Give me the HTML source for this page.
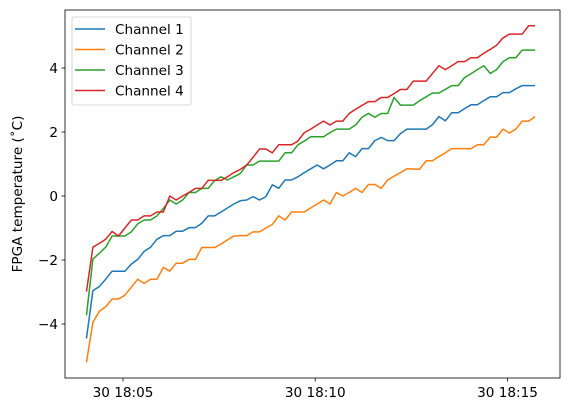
<!DOCTYPE html>
<html><head><meta charset="utf-8"><style>
body{margin:0;background:#fff;}
svg{display:block;font-family:"DejaVu Sans","Liberation Sans",sans-serif;}
</style></head><body>
<svg id="chart" width="569" height="413"></svg>
<script>
const startTime = "18:04:03";
const stepSeconds = 10;
const seriesNames = ["Channel 1","Channel 2","Channel 3","Channel 4"];
const seriesColors = ["#1f77b4","#ff7f0e","#2ca02c","#d62728"];
const ch1 = [-4.45,-2.96,-2.83,-2.6,-2.35,-2.35,-2.35,-2.13,-1.98,-1.73,-1.6,-1.35,-1.24,-1.24,-1.1,-1.1,-0.99,-0.99,-0.85,-0.62,-0.62,-0.5,-0.375,-0.25,-0.15,-0.125,-0.02,-0.125,-0.02,0.35,0.24,0.5,0.5,0.6,0.73,0.85,0.97,0.85,0.97,1.1,1.1,1.35,1.23,1.48,1.48,1.73,1.83,1.73,1.73,1.95,2.09,2.09,2.09,2.09,2.23,2.48,2.35,2.6,2.6,2.73,2.85,2.85,2.98,3.1,3.1,3.23,3.23,3.35,3.45,3.45,3.45];
const ch2 = [-5.2,-3.95,-3.6,-3.46,-3.22,-3.22,-3.1,-2.85,-2.6,-2.73,-2.6,-2.6,-2.23,-2.35,-2.1,-2.1,-1.98,-1.98,-1.61,-1.61,-1.61,-1.5,-1.37,-1.25,-1.24,-1.24,-1.12,-1.12,-1.0,-0.89,-0.62,-0.75,-0.5,-0.5,-0.5,-0.37,-0.25,-0.125,-0.25,0.11,0.0,0.11,0.24,0.11,0.36,0.36,0.24,0.5,0.62,0.73,0.85,0.84,0.84,1.1,1.1,1.23,1.35,1.48,1.48,1.48,1.48,1.6,1.6,1.84,1.84,2.09,1.97,2.09,2.34,2.34,2.48];
const ch3 = [-3.73,-1.97,-1.79,-1.6,-1.25,-1.25,-1.25,-1.12,-0.87,-0.75,-0.75,-0.62,-0.39,-0.125,-0.25,-0.125,0.11,0.11,0.24,0.24,0.48,0.6,0.5,0.6,0.7,0.97,0.97,1.09,1.09,1.09,1.09,1.35,1.35,1.6,1.72,1.85,1.85,1.85,1.98,2.09,2.09,2.09,2.22,2.46,2.58,2.46,2.58,2.58,3.08,2.84,2.84,2.84,2.98,3.1,3.22,3.22,3.33,3.45,3.45,3.7,3.82,3.95,4.07,3.83,3.95,4.2,4.32,4.32,4.56,4.56,4.56];
const ch4 = [-2.99,-1.6,-1.48,-1.35,-1.11,-1.25,-1.0,-0.75,-0.75,-0.62,-0.62,-0.5,-0.5,0.0,-0.125,0.0,0.11,0.24,0.24,0.49,0.49,0.49,0.6,0.73,0.83,0.97,1.21,1.47,1.47,1.35,1.6,1.6,1.6,1.72,1.98,2.09,2.22,2.34,2.22,2.34,2.34,2.58,2.71,2.83,2.95,2.95,3.08,3.08,3.2,3.33,3.33,3.59,3.59,3.59,3.83,4.07,3.95,4.07,4.2,4.2,4.32,4.32,4.46,4.58,4.71,4.94,5.06,5.06,5.06,5.32,5.32];
const seriesValues = [ch1,ch2,ch3,ch4];
const yTicks = [-4,-2,0,2,4];
const xTickLabels = ["30 18:05","30 18:10","30 18:15"];
const xTickMinutes = [5,10,15];

const NS="http://www.w3.org/2000/svg";
const svg=document.getElementById('chart');
const L=65,R=560,T=10,B=378;
const FS=13.6;
function xScale(minutesAfter18){return 123+(minutesAfter18-5)*38.45;}
function yScale(v){return 196-v*32;}
function mk(tag,attrs,parent){const e=document.createElementNS(NS,tag);for(const k in attrs)e.setAttribute(k,attrs[k]);(parent||svg).appendChild(e);return e;}
const sp=startTime.split(':').map(Number);
const startMin=sp[1]+sp[2]/60;

seriesValues.forEach((vals,si)=>{
  const pts=vals.map((v,i)=>xScale(startMin+i*stepSeconds/60).toFixed(2)+','+yScale(v).toFixed(2)).join(' ');
  const pl=mk('polyline',{points:pts,fill:'none',stroke:seriesColors[si],'stroke-width':1.5,'stroke-linejoin':'round'});
  
  
});

const frame=mk('rect',{x:L,y:T,width:R-L,height:B-T,fill:'none',stroke:'#000','stroke-width':0.8});



yTicks.forEach(v=>{
  const y=yScale(v);
  const tk=mk('line',{x1:L-3.5,x2:L,y1:y,y2:y,stroke:'#000','stroke-width':0.8});
  
  
  const t=mk('text',{x:L-7,y:y+5,'text-anchor':'end','font-size':FS,fill:'#000'});
  t.textContent=(v<0?'\u2212'+(-v):String(v));
  
  
});
xTickMinutes.forEach((m,i)=>{
  const x=xScale(m);
  const tk=mk('line',{x1:x,x2:x,y1:B,y2:B+3.5,stroke:'#000','stroke-width':0.8});
  
  
  const t=mk('text',{x:x,y:B+19,'text-anchor':'middle','font-size':FS,fill:'#000'});
  t.textContent=xTickLabels[i];
  
  
});
const yt=mk('text',{x:0,y:0,'text-anchor':'middle','font-size':FS,fill:'#000',transform:'translate(22,'+((T+B)/2)+') rotate(-90)'});
yt.textContent='FPGA temperature (\u02daC)';



const lg=mk('g',{});


mk('rect',{x:72,y:17,width:119,height:88,rx:2,fill:'#fff','fill-opacity':0.8,stroke:'#ccc','stroke-width':0.8},lg);
seriesNames.forEach((n,i)=>{
  const y=29+i*20.5;
  const g=mk('g',{},lg);
  
  
  mk('line',{x1:75,x2:105,y1:y,y2:y,stroke:seriesColors[i],'stroke-width':1.5},g);
  const t=mk('text',{x:115,y:y+5,'font-size':FS,fill:'#000'},g);
  t.textContent=n;
});
</script>
</body></html>
